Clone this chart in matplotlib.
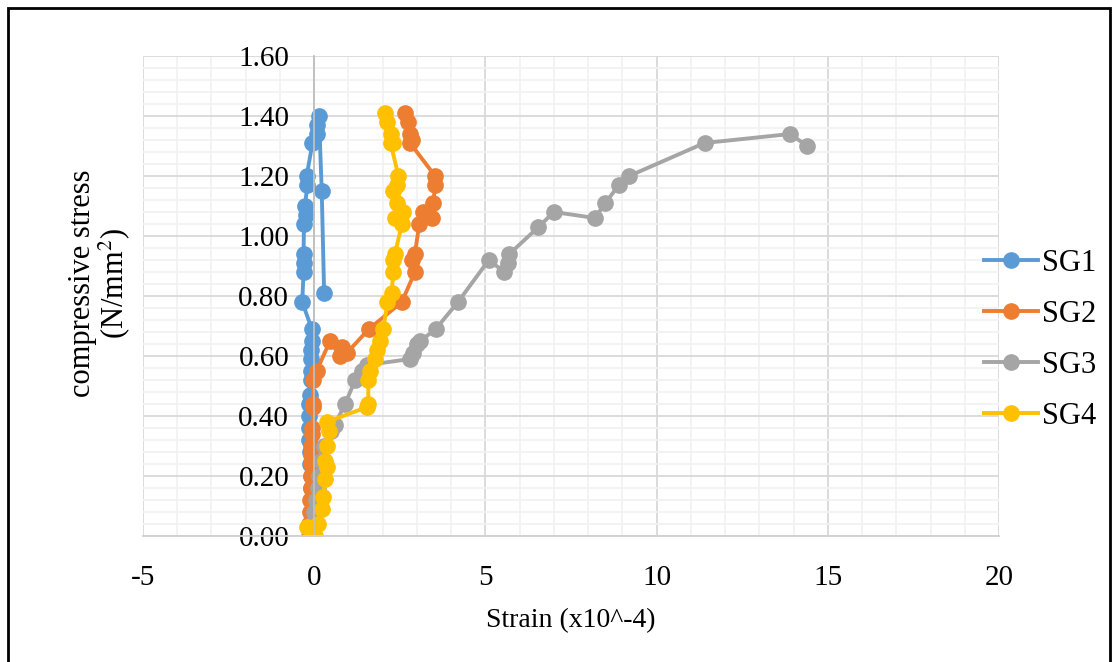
import matplotlib
matplotlib.use("Agg")
import matplotlib.pyplot as plt
from matplotlib.patches import Rectangle
from matplotlib.ticker import MultipleLocator

plt.rcParams['font.family'] = ['Liberation Serif', 'DejaVu Serif']
plt.rcParams['mathtext.fontset'] = 'stix'
plt.rcParams['axes.unicode_minus'] = False

# strain (x10^-4) and compressive stress (N/mm2)
sg1_x = [-0.05, -0.05, -0.07, -0.08, -0.1, -0.1, -0.12, -0.12, -0.15, -0.15, -0.15, -0.15,
         -0.12, -0.1, -0.08, -0.08, -0.08, -0.07, -0.07, -0.35, -0.31, -0.3, -0.31, -0.3,
         -0.24, -0.27, -0.2, -0.22, -0.05, 0.07, 0.07, 0.14, 0.22, 0.29]
sg1_y = [0.00, 0.04, 0.08, 0.12, 0.16, 0.20, 0.24, 0.28, 0.32, 0.36, 0.40, 0.44,
         0.47, 0.52, 0.55, 0.59, 0.62, 0.65, 0.69, 0.78, 0.88, 0.91, 0.94, 1.04,
         1.07, 1.10, 1.17, 1.20, 1.31, 1.34, 1.37, 1.40, 1.15, 0.81]

sg2_x = [-0.15, -0.15, -0.12, -0.12, -0.1, -0.1, -0.1, -0.1, -0.08, -0.07, -0.05, -0.03,
         -0.03, -0.03, 0.07, 0.46, 0.75, 0.8, 0.95, 1.6, 2.56, 2.94, 2.85, 2.94,
         3.07, 3.43, 3.19, 3.48, 3.53, 3.53, 2.8, 2.85, 2.8, 2.75, 2.66]
sg2_y = [0.00, 0.04, 0.08, 0.12, 0.16, 0.20, 0.24, 0.27, 0.30, 0.34, 0.36, 0.43,
         0.44, 0.52, 0.55, 0.65, 0.60, 0.63, 0.61, 0.69, 0.78, 0.88, 0.92, 0.94,
         1.04, 1.06, 1.08, 1.11, 1.17, 1.20, 1.31, 1.32, 1.34, 1.38, 1.41]

sg3_x = [-0.1, -0.05, 0.0, 0.05, 0.1, 0.15, 0.2, 0.3, 0.5, 0.6, 0.9, 1.2, 1.4, 1.55,
         2.8, 2.9, 3.0, 3.1, 3.55, 4.2, 5.1, 5.55, 5.65, 5.7, 6.55, 7.0, 8.2, 8.5,
         8.9, 9.2, 11.4, 13.9, 14.4]
sg3_y = [0.00, 0.04, 0.08, 0.12, 0.16, 0.20, 0.25, 0.30, 0.35, 0.37, 0.44, 0.52, 0.55, 0.57,
         0.59, 0.61, 0.64, 0.65, 0.69, 0.78, 0.92, 0.88, 0.91, 0.94, 1.03, 1.08, 1.06, 1.11,
         1.17, 1.20, 1.31, 1.34, 1.30]

sg4_x = [-0.22, 0.02, 0.12, 0.22, 0.27, 0.32, 0.37, 0.32, 0.37, 0.42, 0.37, 1.55, 1.58,
         1.58, 1.63, 1.78, 1.83, 1.92, 2.02, 2.14, 2.26, 2.31, 2.31, 2.36, 2.56, 2.36,
         2.58, 2.41, 2.31, 2.41, 2.46, 2.23, 2.31, 2.24, 2.14, 2.07]
sg4_y = [0.03, 0.00, 0.04, 0.09, 0.13, 0.19, 0.23, 0.25, 0.30, 0.35, 0.38, 0.43, 0.44,
         0.52, 0.55, 0.59, 0.62, 0.65, 0.69, 0.78, 0.81, 0.88, 0.92, 0.94, 1.04, 1.06,
         1.08, 1.11, 1.15, 1.17, 1.20, 1.31, 1.31, 1.34, 1.38, 1.41]

series = [('SG1', sg1_x, sg1_y, '#5B9BD5'),
          ('SG2', sg2_x, sg2_y, '#ED7D31'),
          ('SG3', sg3_x, sg3_y, '#A5A5A5'),
          ('SG4', sg4_x, sg4_y, '#FFC000')]

fig = plt.figure(figsize=(11.17, 6.62), dpi=100)
ax = fig.add_axes([143 / 1117, 1 - 536 / 662, (999 - 143) / 1117, (536 - 56) / 662])

for name, xs, ys, col in series:
    ax.plot(xs, ys, color=col, lw=2.8, marker='o', ms=11, label=name,
            solid_joinstyle='round')

ax.set_xlim(-5, 20)
ax.set_ylim(0, 1.6)
ax.xaxis.set_major_locator(MultipleLocator(5))
ax.xaxis.set_minor_locator(MultipleLocator(1))
ax.yaxis.set_major_locator(MultipleLocator(0.2))
ax.yaxis.set_minor_locator(MultipleLocator(0.04))
ax.yaxis.set_major_formatter(lambda v, p: f'{v:.2f}')

ax.grid(which='minor', color='#F2F2F2', lw=1.3)
ax.grid(which='major', color='#D9D9D9', lw=1.3)
ax.set_axisbelow(True)

for s in ['top', 'right']:
    ax.spines[s].set_visible(False)
ax.spines['left'].set_position(('data', 0))
ax.spines['left'].set_color('#BFBFBF')
ax.spines['left'].set_linewidth(1.3)
ax.spines['bottom'].set_color('#D0D0D0')
ax.spines['bottom'].set_linewidth(1.3)

ax.tick_params(which='both', length=0)
ax.tick_params(axis='x', labelsize=21, pad=21)
ax.tick_params(axis='y', labelsize=21, pad=18)

ax.set_xlabel('Strain (x10^-4)', fontsize=20, labelpad=12)
fig.text(100 / 1117, 1 - 283 / 662, 'compressive stress\n(N/mm$^2$)', rotation=90,
         ha='center', va='center', fontsize=22, linespacing=1.0,
         multialignment='center')

fig.legend(loc='center left', bbox_to_anchor=(972 / 1117, 1 - 340 / 662), frameon=False,
           fontsize=22, handlelength=1.75, labelspacing=0.72, handletextpad=0.15,
           borderaxespad=0)

fig.patches.append(Rectangle((8 / 1117, -0.02), (1110 - 8) / 1117, 1.02 - 8 / 662,
                             transform=fig.transFigure, fill=False, ec='black', lw=2))

fig.savefig('out.png', dpi=100)
